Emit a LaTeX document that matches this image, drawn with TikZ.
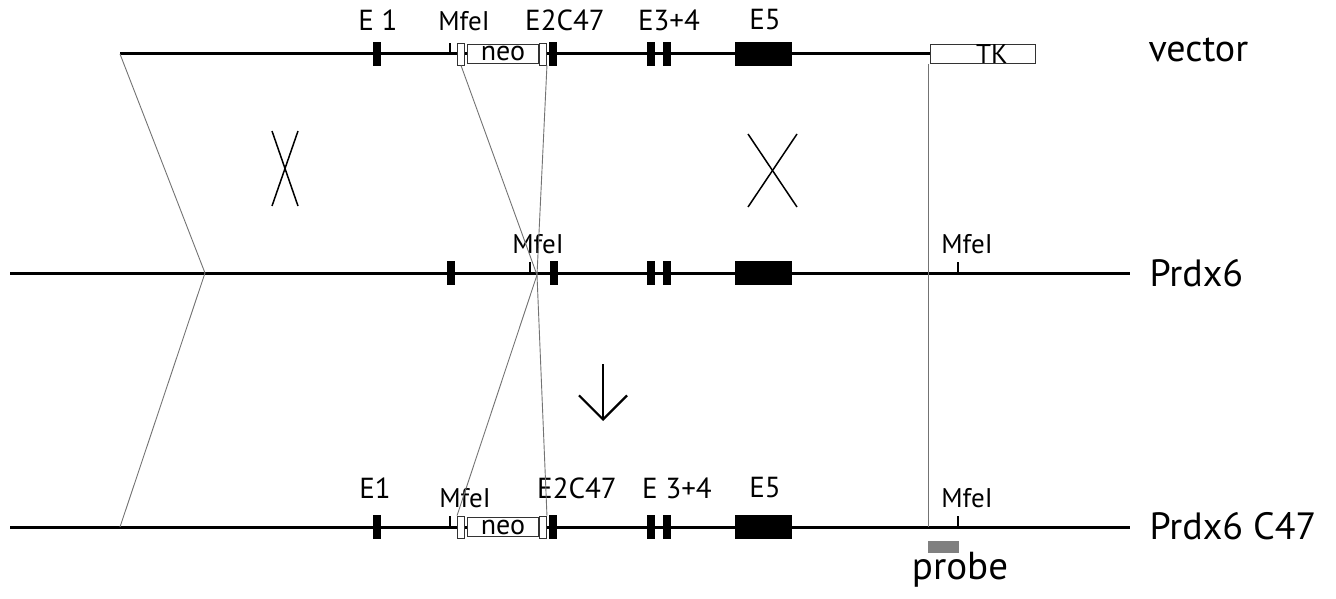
\documentclass[tikz,border=0pt]{standalone}
\usepackage{fontspec}
\setmainfont{PT Sans}
\usetikzlibrary{arrows.meta}
\usetikzlibrary{positioning}

\begin{document}
\begin{tikzpicture}[x=1pt,y=-1pt,
    dna/.style={line width=3pt},
    guide/.style={draw=black!55,line width=0.9pt},
    exon/.style={rectangle,fill=black,inner sep=0pt,minimum width=8pt,minimum height=24pt},
    bigexon/.style={exon,minimum width=57pt},
    cassette/.style={rectangle,draw=black!80,line width=0.9pt,fill=white,inner sep=0pt,minimum height=19pt,font=\fontsize{28}{30}\selectfont},
    spacer/.style={cassette,minimum width=7pt,minimum height=22pt},
    site/.style={rectangle,fill=black,inner sep=0pt,minimum width=2pt,minimum height=11pt,anchor=south},
    lbl/.style={font=\fontsize{29}{32}\selectfont},
    sitelbl/.style={font=\fontsize{27}{30}\selectfont},
    big/.style={font=\fontsize{38}{44}\selectfont,anchor=west}]

    \useasboundingbox (0,0) rectangle (1336,599);

    % Line ends
    \coordinate (V0) at (120,54);
    \coordinate (V1) at (930,54);
    \coordinate (P0) at (10,273);
    \coordinate (P1) at (1130,273);
    \coordinate (B0) at (10,527);
    \coordinate (B1) at (1130,527);
    \draw[dna] (V0) -- (V1);
    \draw[dna] (P0) -- (P1);
    \draw[dna] (B0) -- (B1);

    % Vector nodes
    \node[exon] (vE1) at (377,54) {};
    \node[site] (vM) at (450,54) {};
    \node[spacer] (vsL) at (461,54) {};
    \node[cassette,minimum width=71pt] (vneo) at (503,54) {\raisebox{-3pt}{neo}};
    \node[spacer] (vsR) at (543,54) {};
    \node[exon] (vE2) at (553,54) {};
    \node[exon] (vE3) at (651,54) {};
    \node[exon] (vE4) at (667,54) {};
    \node[bigexon] (vE5) at (763,54) {};
    \node[cassette,minimum width=105pt,anchor=west,font=\fontsize{27}{30}\selectfont] (vTK) at (V1) {\hspace*{18pt}TK};
    \node[lbl] (lvE1) at (378,20) {E 1};
    \node[sitelbl] (lvM) at (464,21) {MfeI};
    \node[lbl] (lvE2) at (565,20) {E2C47};
    \node[lbl] (lvE3) at (669,20) {E3+4};
    \node[lbl] (lvE5) at (765,20) {E5};
    \node[big] (lvec) at (1145,50) {vector};

    % Prdx6 nodes
    \node[exon] (pE1) at (451,273) {};
    \node[site] (pM) at (530,273) {};
    \node[exon] (pE2) at (554,273) {};
    \node[exon] (pE3) at (651,273) {};
    \node[exon] (pE4) at (667,273) {};
    \node[bigexon] (pE5) at (763,273) {};
    \node[site] (pM2) at (958,273) {};
    \node[sitelbl] (lpM) at (538,244) {MfeI};
    \node[sitelbl] (lpM2) at (967,244) {MfeI};
    \node[big] (lprdx) at (1146,273) {Prdx6};

    % Prdx6 C47 nodes
    \node[exon] (bE1) at (377,527) {};
    \node[site] (bM) at (450,527) {};
    \node[spacer] (bsL) at (461,527) {};
    \node[cassette,minimum width=71pt] (bneo) at (503,527) {\raisebox{-3pt}{neo}};
    \node[spacer] (bsR) at (543,527) {};
    \node[exon] (bE2) at (553,527) {};
    \node[exon] (bE3) at (651,527) {};
    \node[exon] (bE4) at (667,527) {};
    \node[bigexon] (bE5) at (763,527) {};
    \node[site] (bM2) at (958,527) {};
    \node[rectangle,fill=black!50,inner sep=0pt,minimum width=31pt,minimum height=12pt] (probe) at (943,547) {};
    \node[lbl] (lbE1) at (375,488) {E1};
    \node[sitelbl] (lbM) at (465,498) {MfeI};
    \node[lbl] (lbE2) at (577,488) {E2C47};
    \node[lbl] (lbE3) at (677,488) {E 3+4};
    \node[lbl] (lbE5) at (765,488) {E5};
    \node[sitelbl] (lbM2) at (967,498) {MfeI};
    \node[big] (lc47) at (1146,526) {Prdx6 C47};
    \node[font=\fontsize{39}{44}\selectfont] (lprobe) at (960,570) {probe};

    % Recombination guides
    \coordinate (kink) at (205,273);
    \coordinate (Bk) at (120,527);
    \coordinate (pinch) at (537,275);
    \coordinate (Bg) at (928,527);
    \path[guide] (V0) edge (kink);
    \path[guide] (kink) edge (Bk);
    \path[guide] (vsL.south) edge (pinch);
    \path[guide] (pinch) edge (bsL.north west);
    \path[guide] (vsR.south east) edge (pinch);
    \path[guide] (pinch) edge (bsR.north east);
    \path[guide] ([xshift=-2pt]vTK.south west) edge (Bg);

    % Crossover marks
    \draw[line width=1.5pt] (272,131) -- (298,206);
    \draw[line width=1.5pt] (298,131) -- (272,206);
    \draw[line width=1.5pt] (748,134) -- (797,207);
    \draw[line width=1.5pt] (797,134) -- (748,207);

    % Down arrow
    \coordinate (aTop) at (603,364);
    \coordinate (aTip) at (603,421);
    \draw[line width=2.2pt,-{Straight Barb[length=24pt,width=48pt,line width=2.2pt]}] (aTop) -- (aTip);

\end{tikzpicture}
\end{document}
